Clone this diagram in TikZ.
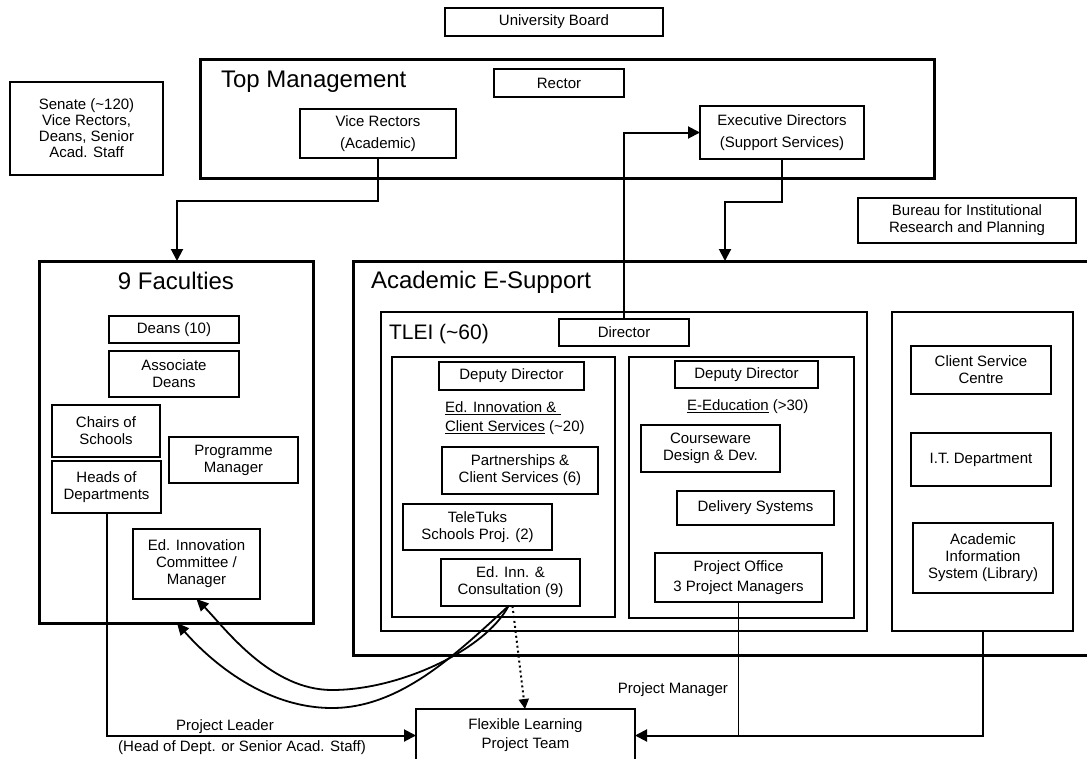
\documentclass[tikz,border=0pt]{standalone}
\usepackage{fontspec}
\setmainfont{Liberation Sans}
\usetikzlibrary{arrows.meta}
\tikzset{
  box/.style={draw, line width=1.1pt, inner sep=0pt, outer sep=0pt, align=center, font=\fontsize{15}{18}\selectfont},
  bigbox/.style={line width=3pt},
  titletext/.style={font=\fontsize{24}{28}\selectfont, inner sep=0pt, outer sep=0pt},
  lbl/.style={font=\fontsize{15}{18}\selectfont, inner sep=0pt, outer sep=0pt},
  arr/.style={line width=2pt, -{Triangle[length=12pt,width=12pt]}},
  curvarr/.style={line width=1.8pt, -{Triangle[length=12pt,width=11pt]}},
  dotarr/.style={line width=2pt, dash pattern=on 2pt off 3pt, -{Triangle[length=10pt,width=10pt]}},
  thinline/.style={line width=1.1pt},
}
\newcommand\rbox[7][]{\node[box,#1,minimum width={(#5-#3)*1pt},minimum height={(#6-#4)*1pt}] (#2) at ({(#3+#5)/2},{(#4+#6)/2}) {#7};}
\begin{document}
\begin{tikzpicture}[x=1pt,y=-1pt]
\useasboundingbox (0,0) rectangle (1087,758);
\fill[white] (0,0) rectangle (1087,758);
\clip (0,0) rectangle (1087,758);

% containers
\rbox[bigbox]{tm}{200}{59}{934}{178}{}
\rbox[bigbox]{fac}{39}{261}{313}{623}{}
\rbox[bigbox]{aes}{353}{261}{1100}{655}{}
\rbox{tlei}{381}{312}{867}{631}{}
\rbox{lsub}{392}{357}{615}{617}{}
\rbox{rsub}{629}{357}{854}{618}{}
\rbox{rcol}{892}{312}{1073}{631}{}

% titles
\node[titletext, anchor=base west] (tmtitle) at (221,87) {Top Management};
\node[titletext, anchor=base] (factitle) at (176,289) {9 Faculties};
\node[titletext, anchor=base west] (aestitle) at (371,288) {Academic E-Support};
\node[titletext, font=\fontsize{21}{25}\selectfont, anchor=base west] (tleititle) at (389,339) {TLEI (\textasciitilde60)};

% top
\rbox{ub}{445}{8}{663}{36}{University Board}
\rbox{rector}{494}{69}{624}{97}{Rector}
\rbox[font=\fontsize{15}{22}\selectfont]{vr}{300}{109}{456}{158}{Vice Rectors\\(Academic)}
\rbox[font=\fontsize{15}{22}\selectfont]{ed}{700}{106}{864}{159}{Executive Directors\\(Support Services)}
\rbox[font=\fontsize{15}{16}\selectfont]{senate}{10}{82}{163}{175}{Senate (\textasciitilde120)\\Vice Rectors,\\Deans, Senior\\Acad. Staff}
\rbox[font=\fontsize{15}{17}\selectfont]{bureau}{858}{198}{1076}{243}{Bureau for Institutional\\Research and Planning}

% faculties
\rbox{deans}{109}{316}{239}{343}{Deans (10)}
\rbox[font=\fontsize{15}{17}\selectfont]{adeans}{109}{351}{239}{397}{Associate\\Deans}
\rbox[font=\fontsize{15}{17}\selectfont]{chairs}{52}{405}{160}{457}{Chairs of\\Schools}
\rbox[font=\fontsize{15}{17}\selectfont]{hod}{52}{461}{161}{513}{Heads of\\Departments}
\rbox[font=\fontsize{15}{17}\selectfont]{progm}{169}{437}{298}{483}{Programme\\Manager}
\rbox[font=\fontsize{15}{17}\selectfont]{eic}{133}{529}{260}{599}{Ed. Innovation\\Committee /\\Manager}

% TLEI
\rbox{director}{559}{319}{689}{346}{Director}
\rbox{ddl}{439}{362}{584}{390}{Deputy Director}
\node[lbl, align=left, anchor=west, font=\fontsize{15}{19}\selectfont] (edics) at (445,418.5) {\underline{Ed. Innovation \&\ }\\\underline{Client Services} (\textasciitilde20)};
\rbox[font=\fontsize{15}{17}\selectfont]{partn}{442}{447}{598}{494}{Partnerships \&\\Client Services (6)}
\rbox[font=\fontsize{15}{17}\selectfont]{teletuks}{403}{504}{552}{550}{TeleTuks\\Schools Proj. (2)}
\rbox[font=\fontsize{15}{17}\selectfont]{edinn}{441}{559}{580}{606}{Ed. Inn. \&\\Consultation (9)}
\rbox{ddr}{675}{361}{818}{388}{Deputy Director}
\node[lbl, anchor=west] (eedu) at (687,407) {\underline{E-Education} (>30)};
\rbox[font=\fontsize{15}{17}\selectfont]{cware}{641}{425}{780}{472}{Courseware\\Design \& Dev.}
\rbox{deliv}{677}{491}{834}{525}{Delivery Systems}
\rbox[font=\fontsize{15}{20}\selectfont]{po}{655}{553}{822}{602}{Project Office\\3 Project Managers}

% right column
\rbox[font=\fontsize{15}{17}\selectfont]{csc}{911}{346}{1051}{394}{Client Service\\Centre}
\rbox{itd}{911}{433}{1051}{486}{I.T. Department}
\rbox[font=\fontsize{15}{17}\selectfont]{ais}{913}{523}{1053}{593}{Academic\\Information\\System (Library)}

% project team
\rbox[font=\fontsize{15}{19}\selectfont]{fl}{416}{709}{635}{762}{Flexible Learning\\Project Team}

% connector end points
\coordinate (facin) at (177,261);
\coordinate (aesin) at (725,261);
\coordinate (flin) at (525,709);
\coordinate (lowa) at (332,690);
\coordinate (lowb) at (332,708);

% connectors
\draw[arr] (vr.south) -- ++(0,43) -| (facin);
\draw[arr] (ed.south) -- ++(0,43) -| (aesin);
\draw[arr] (director.north) |- (ed.west);
\draw[arr] (hod.south) |- (fl.west);
\draw[arr] (rcol.south) |- (fl.east);
\draw[thinline] (po.south) -- (po.south |- fl.east);
\draw[curvarr] ([xshift=-2pt]edinn.south) .. controls (485,650) and (400,690) .. (lowa)
   .. controls (270,690) and (225,628) .. (eic.south);
\draw[curvarr] ([xshift=-2pt]edinn.south) .. controls (455,655) and (400,708) .. (lowb)
   .. controls (260,708) and (205,655) .. ([xshift=1pt]fac.south);
\draw[dotarr] ([xshift=2pt]edinn.south) -- (flin);

% labels
\node[lbl, anchor=base east] (pmlabel) at (728,693) {Project Manager};
\node[lbl, anchor=base] (pllabel) at (225,730) {Project Leader};
\node[lbl, anchor=base] (hodlabel) at (242,751) {(Head of Dept. or Senior Acad. Staff)};
\end{tikzpicture}
\end{document}
